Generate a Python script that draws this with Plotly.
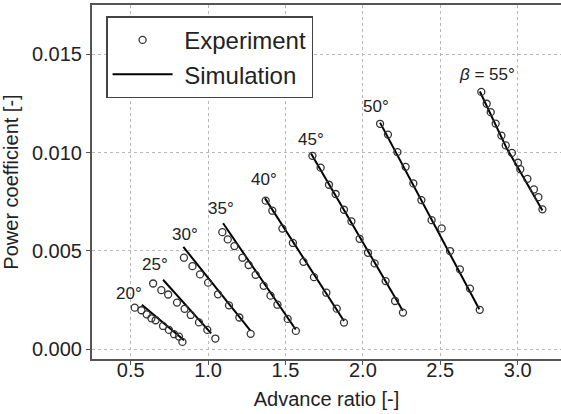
import plotly.graph_objects as go

# Blade pitch angles (degrees)
angles = [20, 25, 30, 35, 40, 45, 50, 55]

# Experimental data: advance ratio J and power coefficient Cp
exp_j_20 = [0.526, 0.569, 0.603, 0.634, 0.661, 0.709, 0.747, 0.780, 0.812, 0.834]
exp_cp_20 = [0.00211, 0.00198, 0.00177, 0.00157, 0.00147, 0.00118, 0.00098, 0.00076, 0.00064, 0.00037]

exp_j_25 = [0.645, 0.698, 0.742, 0.799, 0.848, 0.888, 0.941, 0.995, 1.047]
exp_cp_25 = [0.00334, 0.00300, 0.00278, 0.00237, 0.00205, 0.00174, 0.00136, 0.00098, 0.00054]

exp_j_30 = [0.844, 0.899, 0.948, 1.000, 1.064, 1.135, 1.202, 1.275]
exp_cp_30 = [0.00465, 0.00422, 0.00380, 0.00338, 0.00279, 0.00223, 0.00161, 0.00078]

exp_j_35 = [1.092, 1.127, 1.170, 1.222, 1.262, 1.307, 1.359, 1.403, 1.448, 1.514, 1.567]
exp_cp_35 = [0.00595, 0.00558, 0.00524, 0.00465, 0.00428, 0.00378, 0.00322, 0.00272, 0.00226, 0.00154, 0.00093]

exp_j_40 = [1.372, 1.415, 1.480, 1.548, 1.616, 1.684, 1.764, 1.831, 1.878]
exp_cp_40 = [0.00755, 0.00704, 0.00613, 0.00540, 0.00444, 0.00366, 0.00287, 0.00206, 0.00135]

exp_j_45 = [1.674, 1.727, 1.781, 1.824, 1.878, 1.926, 1.979, 2.033, 2.076, 2.147, 2.208, 2.259]
exp_cp_45 = [0.00983, 0.00923, 0.00836, 0.00789, 0.00709, 0.00650, 0.00561, 0.00490, 0.00436, 0.00346, 0.00245, 0.00186]

exp_j_50 = [2.111, 2.162, 2.223, 2.276, 2.326, 2.378, 2.444, 2.509, 2.563, 2.627, 2.692, 2.755]
exp_cp_50 = [0.01146, 0.01091, 0.01002, 0.00927, 0.00843, 0.00758, 0.00656, 0.00614, 0.00499, 0.00406, 0.00308, 0.00200]

exp_j_55 = [2.765, 2.800, 2.826, 2.858, 2.895, 2.923, 2.963, 3.002, 3.017, 3.063, 3.105, 3.134, 3.160]
exp_cp_55 = [0.01308, 0.01248, 0.01205, 0.01147, 0.01086, 0.01036, 0.00998, 0.00948, 0.00915, 0.00866, 0.00812, 0.00773, 0.00711]

# Simulation curves
sim_j_20 = [0.572, 0.845]
sim_cp_20 = [0.00226, 0.00045]
sim_j_25 = [0.709, 1.020]
sim_cp_25 = [0.00353, 0.00080]
sim_j_30 = [0.840, 1.272]
sim_cp_30 = [0.00520, 0.00095]
sim_j_35 = [1.097, 1.566]
sim_cp_35 = [0.00640, 0.00100]
sim_j_40 = [1.367, 1.878]
sim_cp_40 = [0.00768, 0.00143]
sim_j_45 = [1.665, 2.258]
sim_cp_45 = [0.00995, 0.00195]
sim_j_50 = [2.111, 2.752]
sim_cp_50 = [0.01152, 0.00203]
sim_j_55 = [2.756, 2.840, 2.930, 3.040, 3.160]
sim_cp_55 = [0.01310, 0.01170, 0.01020, 0.00870, 0.00705]

# Angle label positions (J, Cp)
label_text = ["20°", "25°", "30°", "35°", "40°", "45°", "50°", "<i>β</i> = 55°"]
label_j = [0.487, 0.655, 0.851, 1.081, 1.361, 1.663, 2.083, 2.804]
label_cp = [0.00284, 0.00431, 0.00584, 0.00714, 0.00863, 0.01066, 0.01232, 0.01396]

experiments = [
    (exp_j_20, exp_cp_20), (exp_j_25, exp_cp_25), (exp_j_30, exp_cp_30),
    (exp_j_35, exp_cp_35), (exp_j_40, exp_cp_40), (exp_j_45, exp_cp_45),
    (exp_j_50, exp_cp_50), (exp_j_55, exp_cp_55),
]
simulations = [
    (sim_j_20, sim_cp_20), (sim_j_25, sim_cp_25), (sim_j_30, sim_cp_30),
    (sim_j_35, sim_cp_35), (sim_j_40, sim_cp_40), (sim_j_45, sim_cp_45),
    (sim_j_50, sim_cp_50), (sim_j_55, sim_cp_55),
]

FONT = "Liberation Sans"
TEXT = "#222222"
AXIS_FONT = dict(family=FONT, size=20, color=TEXT)
GAP = "\u00a0"

fig = go.Figure()

for i, (sj, scp) in enumerate(simulations):
    fig.add_trace(go.Scatter(
        x=sj, y=scp, mode="lines",
        line=dict(color="black", width=2),
        name=GAP + "Simulation", legendgroup="sim", showlegend=(i == 0),
        legendrank=2,
    ))

for i, (ej, ecp) in enumerate(experiments):
    fig.add_trace(go.Scatter(
        x=ej, y=ecp, mode="markers",
        marker=dict(symbol="circle-open", size=7, color="#333333",
                    line=dict(width=1.3, color="#333333")),
        name=GAP + "Experiment", legendgroup="exp", showlegend=(i == 0),
        legendrank=1,
    ))

for t, lj, lcp in zip(label_text, label_j, label_cp):
    fig.add_annotation(x=lj, y=lcp, text=t, showarrow=False,
                       font=dict(family=FONT, size=17, color=TEXT),
                       xanchor="center", yanchor="middle")

fig.update_layout(
    width=561, height=414,
    margin=dict(l=92, r=0, t=5, b=55),
    paper_bgcolor="white", plot_bgcolor="white",
    font=dict(family=FONT, size=20, color=TEXT),
    legend=dict(
        x=0.03, y=0.968, xanchor="left", yanchor="top",
        bgcolor="white", bordercolor="#444444", borderwidth=1.5,
        font=dict(family=FONT, size=24, color=TEXT),
        itemwidth=60, tracegroupgap=0,
    ),
    xaxis=dict(
        range=[0.25, 3.28], tickvals=[0.5, 1.0, 1.5, 2.0, 2.5, 3.0],
        ticktext=["0.5", "1.0", "1.5", "2.0", "2.5", "3.0"],
        tickfont=AXIS_FONT, ticklabelstandoff=-12,
        showgrid=True, gridcolor="#b8b8b8", griddash="dot", gridwidth=1,
        showline=True, linecolor="#555555", linewidth=2, mirror=True,
        ticks="outside", ticklen=4, tickcolor="#555555",
        zeroline=False,
        title=dict(text="Advance ratio [-]", standoff=12, font=AXIS_FONT),
    ),
    yaxis=dict(
        range=[-0.0005, 0.0175], tickvals=[0.0, 0.005, 0.010, 0.015],
        ticktext=["0.000", "0.005", "0.010", "0.015"],
        tickfont=AXIS_FONT,
        showgrid=True, gridcolor="#b8b8b8", griddash="dot", gridwidth=1,
        showline=True, linecolor="#555555", linewidth=2, mirror=False,
        ticks="outside", ticklen=4, tickcolor="#555555",
        zeroline=False,
        title=dict(text="Power coefficient [-]", standoff=8, font=AXIS_FONT),
    ),
)

fig.write_html("out.html")
